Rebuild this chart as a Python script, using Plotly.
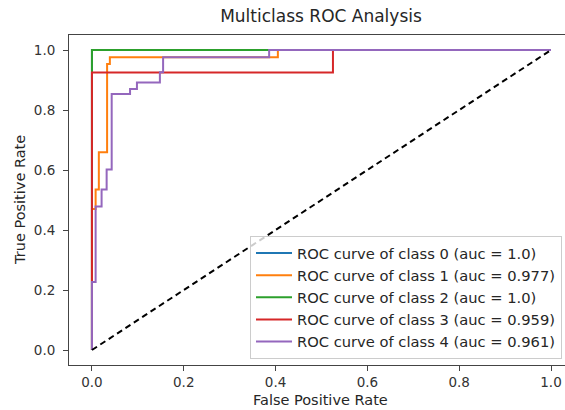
import plotly.graph_objects as go

# ROC curve vertices (false positive rate, true positive rate) per class
fpr_0 = [0.0, 0.0, 1.0]
tpr_0 = [0.0, 1.0, 1.0]

fpr_1 = [0.0, 0.0, 0.008, 0.008, 0.015, 0.015, 0.033, 0.033, 0.039, 0.039, 0.405, 0.405, 1.0]
tpr_1 = [0.0, 0.47, 0.47, 0.535, 0.535, 0.659, 0.659, 0.953, 0.953, 0.976, 0.976, 1.0, 1.0]

fpr_2 = [0.0, 0.0, 1.0]
tpr_2 = [0.0, 1.0, 1.0]

fpr_3 = [0.0, 0.0, 0.525, 0.525, 1.0]
tpr_3 = [0.0, 0.925, 0.925, 1.0, 1.0]

fpr_4 = [0.0, 0.0, 0.008, 0.008, 0.021, 0.021, 0.032, 0.032, 0.043, 0.043, 0.083, 0.083,
         0.098, 0.098, 0.148, 0.148, 0.155, 0.155, 0.386, 0.386, 1.0]
tpr_4 = [0.0, 0.227, 0.227, 0.478, 0.478, 0.535, 0.535, 0.602, 0.602, 0.853, 0.853, 0.870,
         0.870, 0.892, 0.892, 0.926, 0.926, 0.976, 0.976, 1.0, 1.0]

class_labels = ["0", "1", "2", "3", "4"]
auc_values = ["1.0", "0.977", "1.0", "0.959", "0.961"]
colors = ["#1f77b4", "#ff7f0e", "#2ca02c", "#d62728", "#9467bd"]

diag_x = [0.0, 1.0]
diag_y = [0.0, 1.0]

tick_vals = [0.0, 0.2, 0.4, 0.6, 0.8, 1.0]

curves = [(fpr_0, tpr_0), (fpr_1, tpr_1), (fpr_2, tpr_2), (fpr_3, tpr_3), (fpr_4, tpr_4)]

FONT = "DejaVu Sans"
fig = go.Figure()
for i, (fx, ty) in enumerate(curves):
    fig.add_trace(go.Scatter(
        x=fx, y=ty, mode="lines",
        line=dict(color=colors[i], width=2),
        name=f"ROC curve of class {class_labels[i]} (auc = {auc_values[i]})",
        legendgroup=f"g{i}",
    ))
fig.add_trace(go.Scatter(x=diag_x, y=diag_y, mode="lines",
                         line=dict(color="black", width=2, dash="6px,4px"),
                         showlegend=False))

W, H = 565, 410
L, R, T, B = 69, 0, 35, 45
pw = W - L - R
ph = H - T - B

fig.update_layout(
    width=W, height=H,
    margin=dict(l=L, r=R, t=T, b=B, pad=0),
    paper_bgcolor="white", plot_bgcolor="white",
    font=dict(family=FONT, size=14, color="#262626"),
    title=dict(text="Multiclass ROC Analysis", x=321 / W, xref="container", xanchor="center",
               y=1 - 16 / H, yref="container", yanchor="middle",
               font=dict(family=FONT, size=17, color="#262626")),
    showlegend=True,
    legend=dict(x=(250 - L) / pw, y=(H - B - 359) / ph, xanchor="left", yanchor="bottom",
                bgcolor="rgba(255,255,255,0.8)", bordercolor="#cccccc", borderwidth=1,
                font=dict(family=FONT, size=14.7, color="#262626"),
                tracegroupgap=0, itemwidth=36),
    xaxis=dict(range=[-0.05, (W - 92) / 459], tickvals=tick_vals, tickformat=".1f",
               showgrid=False, zeroline=False, showline=True, linecolor="#444", linewidth=1,
               mirror=True, ticks="outside", ticklen=5, tickcolor="#444",
               tickfont=dict(family=FONT, size=13.5, color="#333")),
    yaxis=dict(range=[-0.05, 1.05], tickvals=tick_vals, tickformat=".1f",
               showgrid=False, zeroline=False, showline=True, linecolor="#444", linewidth=1,
               mirror=False, ticks="outside", ticklen=5, tickcolor="#444",
               ticklabelstandoff=5,
               tickfont=dict(family=FONT, size=13.5, color="#333")),
    annotations=[
        dict(text="False Positive Rate", xref="paper", yref="paper",
             x=(320.5 - L) / pw, y=-(400 - (H - B)) / ph, xanchor="center", yanchor="middle",
             showarrow=False, font=dict(family=FONT, size=14.5, color="#262626")),
        dict(text="True Positive Rate", xref="paper", yref="paper",
             x=(20 - L) / pw, y=0.5, xanchor="center", yanchor="middle", textangle=-90,
             showarrow=False, font=dict(family=FONT, size=14.5, color="#262626")),
    ],
)

fig.write_html("out.html")
